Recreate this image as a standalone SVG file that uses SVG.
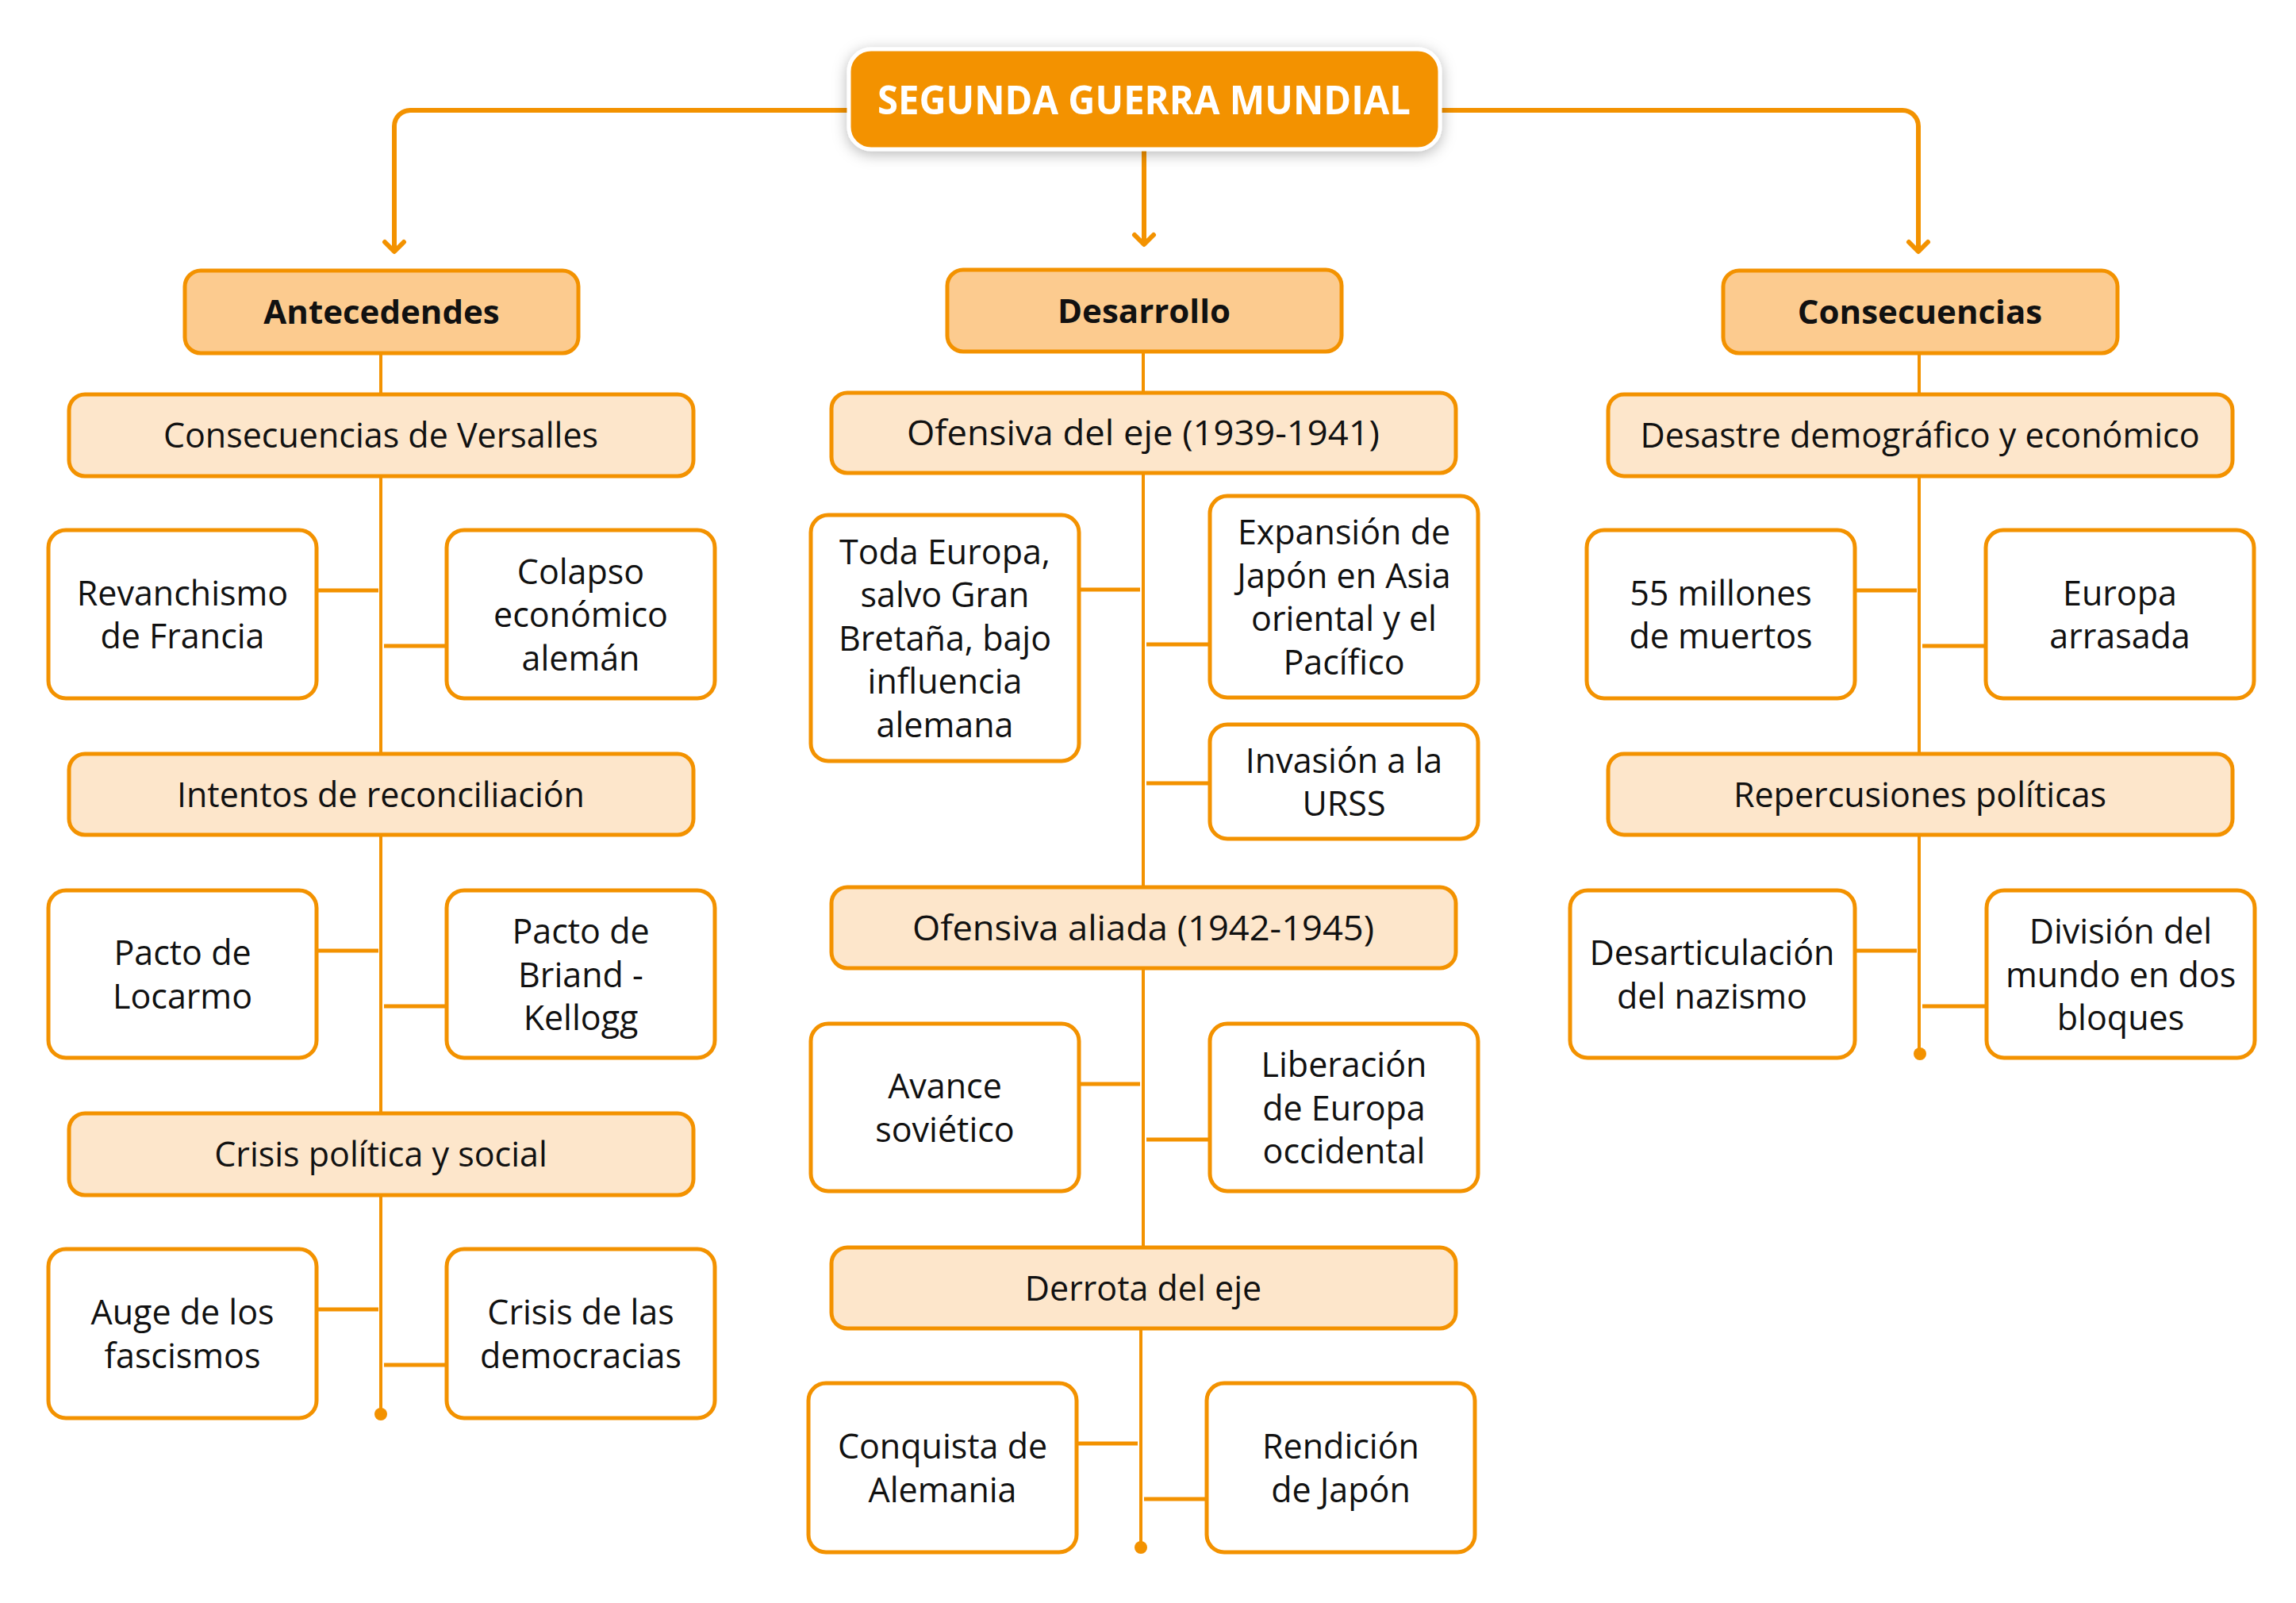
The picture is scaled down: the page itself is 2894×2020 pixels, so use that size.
<svg xmlns="http://www.w3.org/2000/svg" width="2894" height="2020" viewBox="0 0 2894 2020">
<defs>
<filter id="sh" x="-10%" y="-30%" width="120%" height="170%">
<feDropShadow dx="0" dy="4" stdDeviation="9" flood-color="#000" flood-opacity="0.28"/>
</filter>
<style>
.t{font-family:"Open Sans","Noto Sans","Liberation Sans",sans-serif;font-size:43px;fill:#111;text-anchor:middle}
.hb{font-family:"Open Sans","Noto Sans","Liberation Sans",sans-serif;font-size:42px;font-weight:bold;fill:#111;text-anchor:middle}
.title{font-family:"Open Sans","Noto Sans","Liberation Sans",sans-serif;font-size:51px;font-weight:bold;fill:#fff;text-anchor:middle}
.head{fill:#FCCB8F;stroke:#F39200;stroke-width:5}
.sub{fill:#FDE6CB;stroke:#F39200;stroke-width:5}
.leaf{fill:#fff;stroke:#F39200;stroke-width:5}
.trunk{fill:none;stroke:#F39200;stroke-width:4}
.br{fill:none;stroke:#F39200;stroke-width:5}
.top{fill:none;stroke:#F39200;stroke-width:6;stroke-linecap:round;stroke-linejoin:round}
.dot{fill:#F39200}
</style>
</defs>
<rect width="2894" height="2020" fill="#fff"/>

<g id="connectors">
<path class="top" d="M1068 139 H517 A20 20 0 0 0 497 159 V315"/>
<polyline class="top" points="485,305 497,317 509,305"/>
<path class="top" d="M1816 139 H2398 A20 20 0 0 1 2418 159 V315"/>
<polyline class="top" points="2406,305 2418,317 2430,305"/>
<path class="top" d="M1442 190 V306"/>
<polyline class="top" points="1430,296 1442,308 1454,296"/>

<path class="trunk" d="M480 445 V1782"/>
<circle class="dot" cx="480" cy="1782" r="8"/>
<path class="trunk" d="M1441 443 V1572"/>
<path class="trunk" d="M1438 1674 V1950"/>
<circle class="dot" cx="1438" cy="1950" r="8"/>
<path class="trunk" d="M2419 445 V1328"/>
<circle class="dot" cx="2420" cy="1328" r="8"/>

<path class="br" d="M399 744 H477 M484 814 H563 M399 1198 H477 M484 1268 H563 M399 1650 H477 M484 1720 H563"/>
<path class="br" d="M1360 743 H1437 M1445 812 H1525 M1445 987 H1525 M1360 1366 H1437 M1445 1436 H1525 M1357 1819 H1434 M1442 1889 H1521"/>
<path class="br" d="M2338 744 H2416 M2423 814 H2503 M2338 1198 H2416 M2423 1268 H2504"/>
</g>

<g id="title">
<rect x="1070" y="62" width="745" height="126" rx="28" fill="#F39200" stroke="#fff" stroke-width="5" filter="url(#sh)"/>
<text class="title" x="1442" y="144" textLength="672" lengthAdjust="spacingAndGlyphs">SEGUNDA GUERRA MUNDIAL</text>
</g>

<g id="antecedendes">
<rect class="head" x="233" y="341" width="496" height="104" rx="20"/>
<text class="hb" x="481" y="408">Antecedendes</text>
</g>
<g id="desarrollo">
<rect class="head" x="1194" y="340" width="497" height="103" rx="20"/>
<text class="hb" x="1442" y="407">Desarrollo</text>
</g>
<g id="consecuencias">
<rect class="head" x="2172" y="341" width="497" height="104" rx="20"/>
<text class="hb" x="2420" y="408">Consecuencias</text>
</g>

<g id="versalles">
<rect class="sub" x="87" y="497" width="787" height="103" rx="20"/>
<text class="t" x="480" y="564">Consecuencias de Versalles</text>
</g>
<g id="revanchismo">
<rect class="leaf" x="61" y="668" width="338" height="212" rx="22"/>
<text class="t"><tspan x="230" y="763">Revanchismo</tspan><tspan x="230" y="817">de Francia</tspan></text>
</g>
<g id="colapso">
<rect class="leaf" x="563" y="668" width="338" height="212" rx="22"/>
<text class="t"><tspan x="732" y="736">Colapso</tspan><tspan x="732" y="790">económico</tspan><tspan x="732" y="845">alemán</tspan></text>
</g>
<g id="intentos">
<rect class="sub" x="87" y="950" width="787" height="102" rx="20"/>
<text class="t" x="480" y="1017">Intentos de reconciliación</text>
</g>
<g id="locarmo">
<rect class="leaf" x="61" y="1122" width="338" height="211" rx="22"/>
<text class="t"><tspan x="230" y="1216">Pacto de</tspan><tspan x="230" y="1271">Locarmo</tspan></text>
</g>
<g id="briand">
<rect class="leaf" x="563" y="1122" width="338" height="211" rx="22"/>
<text class="t"><tspan x="732" y="1189">Pacto de</tspan><tspan x="732" y="1244">Briand -</tspan><tspan x="732" y="1298">Kellogg</tspan></text>
</g>
<g id="crisis-politica">
<rect class="sub" x="87" y="1403" width="787" height="103" rx="20"/>
<text class="t" x="480" y="1470">Crisis política y social</text>
</g>
<g id="auge">
<rect class="leaf" x="61" y="1574" width="338" height="213" rx="22"/>
<text class="t"><tspan x="230" y="1669">Auge de los</tspan><tspan x="230" y="1724">fascismos</tspan></text>
</g>
<g id="crisis-democracias">
<rect class="leaf" x="563" y="1574" width="338" height="213" rx="22"/>
<text class="t"><tspan x="732" y="1669">Crisis de las</tspan><tspan x="732" y="1724">democracias</tspan></text>
</g>

<g id="ofensiva-eje">
<rect class="sub" x="1048" y="495" width="787" height="101" rx="20"/>
<text class="t" x="1441" y="561" textLength="596" lengthAdjust="spacingAndGlyphs">Ofensiva del eje (1939-1941)</text>
</g>
<g id="toda-europa">
<rect class="leaf" x="1022" y="649" width="338" height="310" rx="22"/>
<text class="t"><tspan x="1191" y="711">Toda Europa,</tspan><tspan x="1191" y="765">salvo Gran</tspan><tspan x="1191" y="820">Bretaña, bajo</tspan><tspan x="1191" y="874">influencia</tspan><tspan x="1191" y="929">alemana</tspan></text>
</g>
<g id="expansion-japon">
<rect class="leaf" x="1525" y="625" width="338" height="254" rx="22"/>
<text class="t"><tspan x="1694" y="686">Expansión de</tspan><tspan x="1694" y="741">Japón en Asia</tspan><tspan x="1694" y="795">oriental y el</tspan><tspan x="1694" y="850">Pacífico</tspan></text>
</g>
<g id="invasion-urss">
<rect class="leaf" x="1525" y="913" width="338" height="144" rx="22"/>
<text class="t"><tspan x="1694" y="974">Invasión a la</tspan><tspan x="1694" y="1028">URSS</tspan></text>
</g>
<g id="ofensiva-aliada">
<rect class="sub" x="1048" y="1118" width="787" height="102" rx="20"/>
<text class="t" x="1441" y="1185" textLength="582" lengthAdjust="spacingAndGlyphs">Ofensiva aliada (1942-1945)</text>
</g>
<g id="avance">
<rect class="leaf" x="1022" y="1290" width="338" height="211" rx="22"/>
<text class="t"><tspan x="1191" y="1384">Avance</tspan><tspan x="1191" y="1439">soviético</tspan></text>
</g>
<g id="liberacion">
<rect class="leaf" x="1525" y="1290" width="338" height="211" rx="22"/>
<text class="t"><tspan x="1694" y="1357">Liberación</tspan><tspan x="1694" y="1412">de Europa</tspan><tspan x="1694" y="1466">occidental</tspan></text>
</g>
<g id="derrota">
<rect class="sub" x="1048" y="1572" width="787" height="102" rx="20"/>
<text class="t" x="1441" y="1639">Derrota del eje</text>
</g>
<g id="conquista">
<rect class="leaf" x="1019" y="1743" width="338" height="213" rx="22"/>
<text class="t"><tspan x="1188" y="1838">Conquista de</tspan><tspan x="1188" y="1893">Alemania</tspan></text>
</g>
<g id="rendicion">
<rect class="leaf" x="1521" y="1743" width="338" height="213" rx="22"/>
<text class="t"><tspan x="1690" y="1838">Rendición</tspan><tspan x="1690" y="1893">de Japón</tspan></text>
</g>

<g id="desastre">
<rect class="sub" x="2027" y="497" width="787" height="103" rx="20"/>
<text class="t" x="2420" y="564">Desastre demográfico y económico</text>
</g>
<g id="millones">
<rect class="leaf" x="2000" y="668" width="338" height="212" rx="22"/>
<text class="t"><tspan x="2169" y="763">55 millones</tspan><tspan x="2169" y="817">de muertos</tspan></text>
</g>
<g id="europa-arrasada">
<rect class="leaf" x="2503" y="668" width="338" height="212" rx="22"/>
<text class="t"><tspan x="2672" y="763">Europa</tspan><tspan x="2672" y="817">arrasada</tspan></text>
</g>
<g id="repercusiones">
<rect class="sub" x="2027" y="950" width="787" height="102" rx="20"/>
<text class="t" x="2420" y="1017">Repercusiones políticas</text>
</g>
<g id="desarticulacion">
<rect class="leaf" x="1979" y="1122" width="359" height="211" rx="22"/>
<text class="t"><tspan x="2158" y="1216">Desarticulación</tspan><tspan x="2158" y="1271">del nazismo</tspan></text>
</g>
<g id="division">
<rect class="leaf" x="2504" y="1122" width="338" height="211" rx="22"/>
<text class="t"><tspan x="2673" y="1189">División del</tspan><tspan x="2673" y="1244">mundo en dos</tspan><tspan x="2673" y="1298">bloques</tspan></text>
</g>
</svg>
